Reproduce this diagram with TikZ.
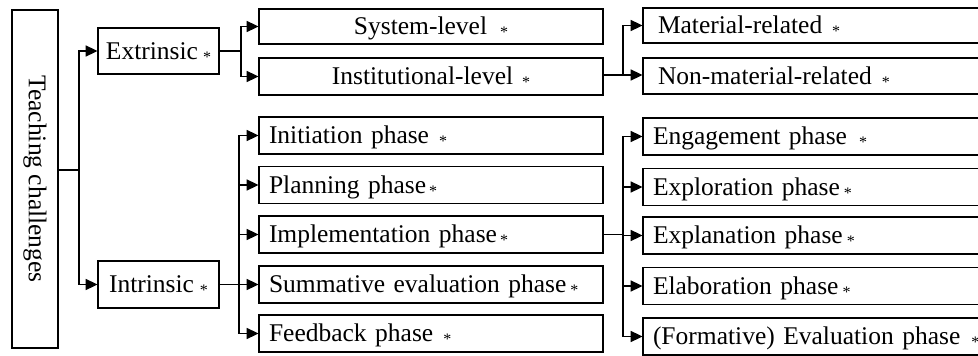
\documentclass[tikz,border=0pt]{standalone}
\usepackage{fontspec}
\setmainfont{Liberation Serif}
\usetikzlibrary{arrows.meta}
% small lowered asterisk that follows each label
\newcommand{\asmark}[1]{\hspace{#1}\raisebox{-3pt}{\fontsize{16}{16}\selectfont *}}
\begin{document}
\begin{tikzpicture}[x=1pt,y=-1pt,
  font=\fontsize{25.5}{30}\selectfont,
  box/.style={draw, line width=1.8pt, inner sep=0pt, text height=18pt, text depth=2pt},
  lbox/.style={box, align=left, text width=#1},
  cbox/.style={box, align=center, text width=#1},
  link/.style={line width=1.6pt},
  arr/.style={link, -{Triangle[length=12pt,width=11pt]}, shorten >=-0.5pt}]
\useasboundingbox (0,0) rectangle (978,356);

% root
\node[draw, line width=1.8pt, minimum width=46pt, minimum height=338pt, inner sep=0pt]
  (tc) at (35,179) {};
\node[rotate=-90] (tclabel) at (tc.center) {Teaching challenges};

% second level
\node[box, minimum width=121pt, minimum height=46pt, align=center] (ext) at (158.5,51)
  {Extrinsic\asmark{5pt}};
\node[box, minimum width=121pt, minimum height=47pt, align=center] (int) at (158.5,284.5)
  {Intrinsic\asmark{6pt}};

% extrinsic branch
\node[cbox=330pt, minimum width=344pt, minimum height=35pt] (sys) at (431,26.5)
  {System-level\asmark{13pt}};
\node[cbox=330pt, minimum width=344pt, minimum height=37pt] (inst) at (431,76.5)
  {Institutional-level\asmark{9pt}};

% intrinsic branch
\foreach \n/\y/\t in {ini/135.5/{Initiation phase\asmark{10pt}},
                     pla/185/{Planning phase\asmark{3pt}},
                     imp/234.5/{Implementation phase\asmark{3pt}},
                     sum/284.5/{Summative evaluation phase\asmark{4pt}},
                     fee/333.5/{Feedback phase\asmark{10pt}}}
  \node[lbox=324pt, minimum width=344pt, minimum height=37pt] (\n) at (431,\y) {\t};

% institutional sub-branch (boxes run past the right edge)
\node[lbox=336pt, minimum width=356pt, minimum height=35pt] (mat) at (821,25.5)
  {\hspace{5pt}Material-related\asmark{10pt}};
\node[lbox=336pt, minimum width=356pt, minimum height=36pt] (nmat) at (821,76)
  {\hspace{5pt}Non-material-related\asmark{10pt}};

% implementation sub-branch
\foreach \n/\y/\t in {eng/136.5/{Engagement phase\asmark{12pt}},
                     exo/187/{Exploration phase\asmark{4pt}},
                     exa/235.5/{Explanation phase\asmark{4pt}},
                     ela/286/{Elaboration phase\asmark{4pt}},
                     for/336.5/{(Formative) Evaluation phase\asmark{11pt}}}
  \node[lbox=336pt, minimum width=356pt, minimum height=37pt] (\n) at (821,\y) {\t};

% root to second level
\coordinate (j0) at (79,0);
\draw[link] (tc.east |- 0,170) -- (j0 |- 0,170);
\draw[arr] (j0 |- 0,170) |- (ext.west);
\draw[arr] (j0 |- 0,170) |- (int.west);

% extrinsic fan
\coordinate (j1) at (241,0);
\draw[link] (ext.east) -- (j1 |- ext.east);
\draw[arr] (j1 |- ext.east) |- (sys.west);
\draw[arr] (j1 |- ext.east) |- (inst.west);

% intrinsic fan
\coordinate (j2) at (239,0);
\draw[arr] (int.east) -- (sum.west);
\foreach \n in {ini,pla,imp,fee}
  \draw[arr] (j2 |- sum.west) |- (\n.west);

% institutional fan
\coordinate (j3) at (623,0);
\draw[link] (inst.east |- 0,75) -- (j3 |- 0,75);
\draw[arr] (j3 |- 0,75) |- (mat.west);
\draw[arr] (j3 |- 0,75) -- (nmat.west |- 0,75);

% implementation fan
\draw[link] (imp.east) -- (j3 |- imp.east);
\foreach \n in {eng,exo,exa,ela,for}
  \draw[arr] (j3 |- imp.east) |- (\n.west);
\end{tikzpicture}
\end{document}
